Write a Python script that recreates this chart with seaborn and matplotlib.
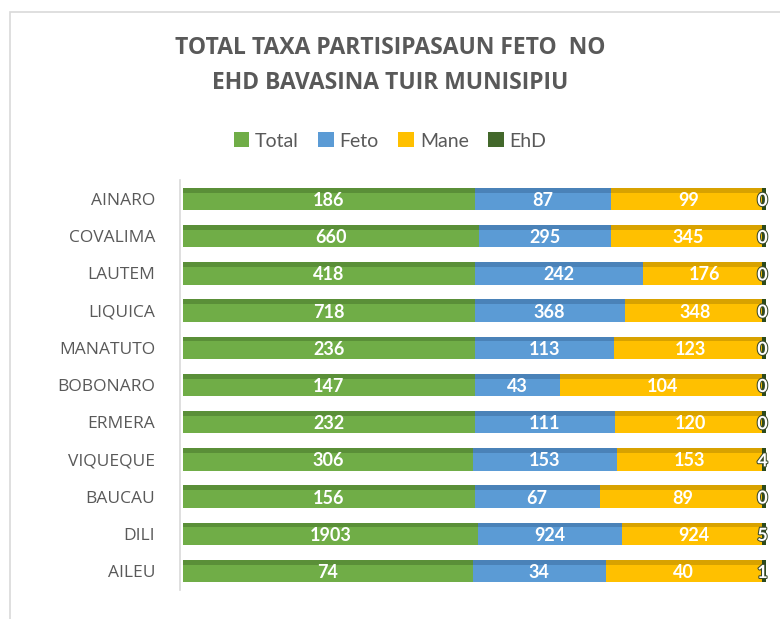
import matplotlib
matplotlib.use("Agg")
import numpy as np
import pandas as pd
import matplotlib.pyplot as plt
import matplotlib.patheffects as pe
from matplotlib.patches import Rectangle, Patch
import seaborn as sns

# data
munisipiu = ["AINARO", "COVALIMA", "LAUTEM", "LIQUICA", "MANATUTO", "BOBONARO",
             "ERMERA", "VIQUEQUE", "BAUCAU", "DILI", "AILEU"]
total = [186, 660, 418, 718, 236, 147, 232, 306, 156, 1903, 74]
feto = [87, 295, 242, 368, 113, 43, 111, 153, 67, 924, 34]
mane = [99, 345, 176, 348, 123, 104, 120, 153, 89, 924, 40]
ehd = [0, 0, 0, 0, 0, 0, 0, 4, 0, 5, 1]

series = ["Total", "Feto", "Mane", "EhD"]
colors = {"Total": "#70AD47", "Feto": "#5B9BD5", "Mane": "#FFC000", "EhD": "#43682B"}
shade = {"Total": "#5A8F38", "Feto": "#4A82B8", "Mane": "#D8A200", "EhD": "#2C4A1C"}

df = pd.DataFrame({"Munisipiu": munisipiu, "Total": total, "Feto": feto,
                   "Mane": mane, "EhD": ehd})
share = df[series].div(df[series].sum(axis=1), axis=0)
cum = share.cumsum(axis=1)

sns.set_theme(style="white")
plt.rcParams["font.family"] = ["Open Sans", "DejaVu Sans"]
grey = "#595959"
lbl_font = ["Lato", "DejaVu Sans"]

fig = plt.figure(figsize=(7.8, 6.19), dpi=100)
ax = fig.add_axes([183 / 780, 1 - 589.6 / 619, 583 / 780, 409.2 / 619])

# stacked 100% bars: draw cumulative layers from the longest one down
for s in reversed(series):
    n0 = len(ax.patches)
    sns.barplot(x=cum[s].values, y=df["Munisipiu"], color=colors[s], orient="h",
                width=0.6, saturation=1, linewidth=0, edgecolor="none", ax=ax)
    for p in ax.patches[n0:]:
        # darker strip on top for the bevel look
        ax.add_patch(Rectangle((p.get_x(), p.get_y()), p.get_width(), 0.13,
                               facecolor=shade[s], edgecolor="none"))

# dark end face of each bar
for i in range(len(df)):
    ax.add_patch(Rectangle((0.993, i - 0.3), 0.007, 0.6, facecolor=shade["EhD"],
                           edgecolor="none"))

for s in series:
    for i, v in enumerate(df[s]):
        if s == "EhD":
            ax.text(cum[s][i] + 0.003, i + 0.04, str(v), ha="right", va="center",
                    color="white", fontsize=13, fontweight="bold", clip_on=False,
                    family=lbl_font,
                    path_effects=[pe.withStroke(linewidth=1.5, foreground="#3a4a2a")])
        else:
            ax.text(cum[s][i] - share[s][i] / 2, i + 0.04, str(v), ha="center",
                    va="center", color="white", fontsize=13, fontweight="bold",
                    family=lbl_font)

ax.set_xlim(0, 1)
ax.set_ylim(10.5, -0.5)
ax.set_xlabel("")
ax.set_ylabel("")
ax.set_xticks([])
for side in ["top", "right", "bottom"]:
    ax.spines[side].set_visible(False)
ax.spines["left"].set_color("#D9D9D9")
ax.spines["left"].set_linewidth(1.2)
ax.spines["left"].set_position(("outward", 2))
ax.tick_params(axis="y", length=0, pad=18, labelsize=12.5, labelcolor=grey)

fig.text(0.5, 1 - 48 / 619, "TOTAL TAXA PARTISIPASAUN FETO  NO", ha="center",
         va="center", fontsize=16.5, fontweight="bold", color=grey)
fig.text(0.5, 1 - 83 / 619, "EHD BAVASINA TUIR MUNISIPIU", ha="center",
         va="center", fontsize=16.5, fontweight="bold", color=grey)

handles = [Patch(facecolor=colors[s], edgecolor="none") for s in series]
fig.legend(handles, series, loc="center", bbox_to_anchor=(0.5, 1 - 141 / 619),
           ncol=4, frameon=False, handlelength=0.8, handleheight=0.8,
           handletextpad=0.3, columnspacing=1.0, labelcolor=grey,
           prop={"family": lbl_font, "size": 14})

fig.add_artist(Rectangle((10 / 780, -0.1), 1.2, 1.1 - 12 / 619, transform=fig.transFigure,
                         fill=False, edgecolor="#D9D9D9", linewidth=1.2))

fig.savefig("out.png", dpi=100)
